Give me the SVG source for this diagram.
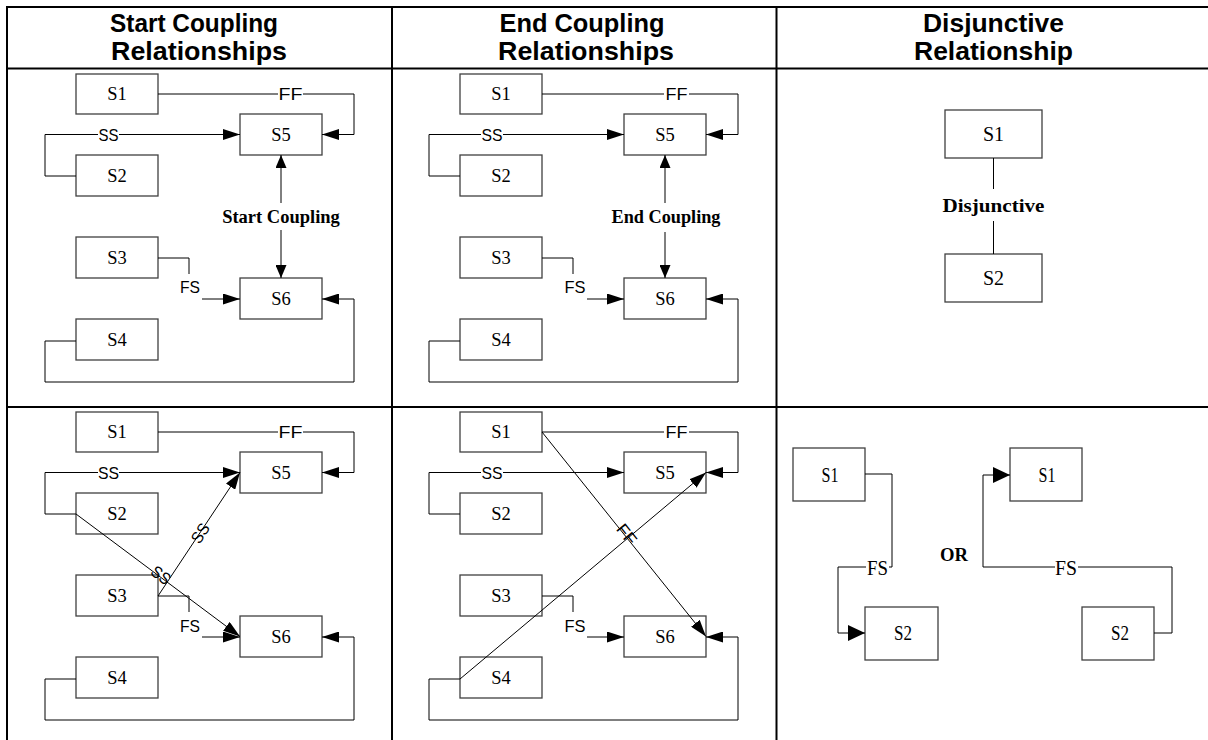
<svg xmlns="http://www.w3.org/2000/svg" width="1208" height="740" viewBox="0 0 1208 740">
<defs>
<style>
.tbl{stroke:#000;stroke-width:2;fill:none}
.box{fill:#fff;stroke:#404040;stroke-width:1.3}
.ln{fill:none;stroke:#000;stroke-width:1}
.a{marker-end:url(#ah)}
.a2{marker-end:url(#ah2)}
.aL{marker-end:url(#ahL)}
.t{font-family:"Liberation Serif","Times New Roman",serif;font-size:18.5px;text-anchor:middle;fill:#000}
.tr{font-family:"Liberation Serif","Times New Roman",serif;font-size:20px;text-anchor:middle;fill:#000}
.tc{font-family:"Liberation Serif","Times New Roman",serif;font-size:22px;text-anchor:middle;fill:#000}
.lb{font-family:"Liberation Sans",Arial,sans-serif;font-size:16.5px;text-anchor:middle;fill:#000}
.bl{font-family:"Liberation Serif","Times New Roman",serif;font-weight:bold;font-size:18.5px;text-anchor:middle;fill:#000}
.hd{font-family:"Liberation Sans",Arial,sans-serif;font-weight:bold;font-size:25px;text-anchor:middle;fill:#000}
</style>
<marker id="ah" markerUnits="userSpaceOnUse" markerWidth="17" markerHeight="11" viewBox="0 0 17 11" refX="17" refY="5.5" orient="auto"><path d="M0,0 L17,5.5 L0,11 z" fill="#000"/></marker>
<marker id="ah2" markerUnits="userSpaceOnUse" markerWidth="13" markerHeight="11" viewBox="0 0 13 11" refX="13" refY="5.5" orient="auto"><path d="M0,0 L13,5.5 L0,11 z" fill="#000"/></marker>
<marker id="ahL" markerUnits="userSpaceOnUse" markerWidth="17" markerHeight="16" viewBox="0 0 17 16" refX="17" refY="8" orient="auto"><path d="M0,0 L17,8 L0,16 z" fill="#000"/></marker>
</defs>
<rect width="1208" height="740" fill="#fff"/>

<g id="table">
<path class="tbl" d="M7,7 H1208 M7,68.5 H1208 M7,407 H1208 M7,6 V740 M392,6 V740 M776.5,6 V740"/>
<text class="hd" x="194" y="32" textLength="168" lengthAdjust="spacingAndGlyphs">Start Coupling</text>
<text class="hd" x="199" y="60" textLength="176" lengthAdjust="spacingAndGlyphs">Relationships</text>
<text class="hd" x="582" y="32" textLength="165" lengthAdjust="spacingAndGlyphs">End Coupling</text>
<text class="hd" x="586" y="60" textLength="176" lengthAdjust="spacingAndGlyphs">Relationships</text>
<text class="hd" x="993.5" y="32" textLength="141" lengthAdjust="spacingAndGlyphs">Disjunctive</text>
<text class="hd" x="993.5" y="60" textLength="159" lengthAdjust="spacingAndGlyphs">Relationship</text>
</g>

<!-- Top-left cell -->
<g id="tl-S1"><rect class="box" x="76" y="74" width="82" height="40"/><text class="t" x="117" y="100">S1</text></g>
<g id="tl-S5"><rect class="box" x="240" y="114" width="82" height="41"/><text class="t" x="281" y="141">S5</text></g>
<g id="tl-S2"><rect class="box" x="76" y="155" width="82" height="41"/><text class="t" x="117" y="182">S2</text></g>
<g id="tl-S3"><rect class="box" x="76" y="237" width="82" height="41"/><text class="t" x="117" y="264">S3</text></g>
<g id="tl-S6"><rect class="box" x="240" y="278" width="82" height="41"/><text class="t" x="281" y="305">S6</text></g>
<g id="tl-S4"><rect class="box" x="76" y="319" width="82" height="41"/><text class="t" x="117" y="346">S4</text></g>

<!-- Top-middle cell -->
<g id="tm-S1"><rect class="box" x="460" y="74" width="82" height="40"/><text class="t" x="501" y="100">S1</text></g>
<g id="tm-S5"><rect class="box" x="624" y="114" width="82" height="41"/><text class="t" x="665" y="141">S5</text></g>
<g id="tm-S2"><rect class="box" x="460" y="155" width="82" height="41"/><text class="t" x="501" y="182">S2</text></g>
<g id="tm-S3"><rect class="box" x="460" y="237" width="82" height="41"/><text class="t" x="501" y="264">S3</text></g>
<g id="tm-S6"><rect class="box" x="624" y="278" width="82" height="41"/><text class="t" x="665" y="305">S6</text></g>
<g id="tm-S4"><rect class="box" x="460" y="319" width="82" height="41"/><text class="t" x="501" y="346">S4</text></g>

<!-- Top-right cell -->
<g id="tr-S1"><rect class="box" x="945" y="110" width="97" height="48"/><text class="tr" x="993.5" y="141">S1</text></g>
<g id="tr-S2"><rect class="box" x="945" y="254" width="97" height="48"/><text class="tr" x="993.5" y="285">S2</text></g>

<!-- Bottom-left cell -->
<g id="bl-S1"><rect class="box" x="76" y="412" width="82" height="40"/><text class="t" x="117" y="438">S1</text></g>
<g id="bl-S5"><rect class="box" x="240" y="452" width="82" height="41"/><text class="t" x="281" y="479">S5</text></g>
<g id="bl-S2"><rect class="box" x="76" y="493" width="82" height="41"/><text class="t" x="117" y="520">S2</text></g>
<g id="bl-S3"><rect class="box" x="76" y="575" width="82" height="41"/><text class="t" x="117" y="602">S3</text></g>
<g id="bl-S6"><rect class="box" x="240" y="616" width="82" height="41"/><text class="t" x="281" y="643">S6</text></g>
<g id="bl-S4"><rect class="box" x="76" y="657" width="82" height="41"/><text class="t" x="117" y="684">S4</text></g>

<!-- Bottom-middle cell -->
<g id="bm-S1"><rect class="box" x="460" y="412" width="82" height="40"/><text class="t" x="501" y="438">S1</text></g>
<g id="bm-S5"><rect class="box" x="624" y="452" width="82" height="41"/><text class="t" x="665" y="479">S5</text></g>
<g id="bm-S2"><rect class="box" x="460" y="493" width="82" height="41"/><text class="t" x="501" y="520">S2</text></g>
<g id="bm-S3"><rect class="box" x="460" y="575" width="82" height="41"/><text class="t" x="501" y="602">S3</text></g>
<g id="bm-S6"><rect class="box" x="624" y="616" width="82" height="41"/><text class="t" x="665" y="643">S6</text></g>
<g id="bm-S4"><rect class="box" x="460" y="657" width="82" height="41"/><text class="t" x="501" y="684">S4</text></g>

<!-- Bottom-right cell -->
<g id="br-S1a"><rect class="box" x="793" y="448" width="72" height="53"/><text class="tc" x="830" y="482" textLength="17" lengthAdjust="spacingAndGlyphs">S1</text></g>
<g id="br-S2a"><rect class="box" x="865" y="607" width="73" height="53"/><text class="tc" x="903" y="640" textLength="18" lengthAdjust="spacingAndGlyphs">S2</text></g>
<g id="br-S1b"><rect class="box" x="1010" y="448" width="72" height="53"/><text class="tc" x="1047" y="482" textLength="17" lengthAdjust="spacingAndGlyphs">S1</text></g>
<g id="br-S2b"><rect class="box" x="1082" y="607" width="72" height="53"/><text class="tc" x="1120" y="640" textLength="18" lengthAdjust="spacingAndGlyphs">S2</text></g>

<g id="connectors">
<!-- top-left -->
<path class="ln a" d="M158,94 H278 M303,94 H354 V134.5 H322"/>
<text class="lb" x="290.5" y="100" textLength="24" lengthAdjust="spacingAndGlyphs">FF</text>
<path class="ln a" d="M76,176 H45 V134.5 H98 M119,134.5 H240"/>
<text class="lb" x="108.5" y="140.5" textLength="20" lengthAdjust="spacingAndGlyphs">SS</text>
<path class="ln" d="M158,258 H189 V274"/>
<text class="lb" x="190" y="293" textLength="20" lengthAdjust="spacingAndGlyphs">FS</text>
<path class="ln a" d="M202,299 H240"/>
<path class="ln a" d="M76,341 H45 V382 H354 V299 H322"/>
<path class="ln a2" d="M281,203 V155"/>
<path class="ln a2" d="M281,230 V278"/>
<text class="bl" x="281" y="223">Start Coupling</text>

<!-- top-middle -->
<path class="ln a" d="M542,94 H664 M689,94 H738 V134.5 H706"/>
<text class="lb" x="676.5" y="100" textLength="22" lengthAdjust="spacingAndGlyphs">FF</text>
<path class="ln a" d="M460,176 H429 V134.5 H481 M503,134.5 H624"/>
<text class="lb" x="492" y="140.5" textLength="21" lengthAdjust="spacingAndGlyphs">SS</text>
<path class="ln" d="M542,258 H573 V274"/>
<text class="lb" x="575" y="293" textLength="21" lengthAdjust="spacingAndGlyphs">FS</text>
<path class="ln a" d="M587,299 H624"/>
<path class="ln a" d="M460,341 H429 V382 H738 V299 H706"/>
<path class="ln a2" d="M665,203 V155"/>
<path class="ln a2" d="M665,232 V278"/>
<text class="bl" x="666" y="223" textLength="109" lengthAdjust="spacingAndGlyphs">End Coupling</text>

<!-- top-right -->
<path class="ln" d="M993.5,158 V189 M993.5,221 V254"/>
<text class="bl" x="993.5" y="212" font-size="20" textLength="102" lengthAdjust="spacingAndGlyphs">Disjunctive</text>

<!-- bottom-left -->
<path class="ln a" d="M158,432 H278 M303,432 H354 V472.5 H322"/>
<text class="lb" x="290.5" y="438" textLength="24" lengthAdjust="spacingAndGlyphs">FF</text>
<path class="ln a" d="M76,514 H45 V472.5 H98 M119,472.5 H240"/>
<text class="lb" x="108.5" y="478.5" textLength="21" lengthAdjust="spacingAndGlyphs">SS</text>
<path class="ln a" d="M76,514 L240,636.5"/>
<text class="lb" transform="translate(161,575) rotate(36.9)" x="0" y="6" textLength="20" lengthAdjust="spacingAndGlyphs">SS</text>
<path class="ln a" d="M158,596 L240,472.5"/>
<text class="lb" transform="translate(200,533) rotate(-56.4)" x="0" y="6" textLength="20" lengthAdjust="spacingAndGlyphs">SS</text>
<path class="ln" d="M158,596 H189 V612"/>
<text class="lb" x="190" y="632" textLength="20" lengthAdjust="spacingAndGlyphs">FS</text>
<path class="ln a" d="M202,637 H240"/>
<path class="ln a" d="M76,679 H45 V720 H354 V637 H322"/>

<!-- bottom-middle -->
<path class="ln a" d="M542,432 H664 M689,432 H738 V472.5 H706"/>
<text class="lb" x="676.5" y="438" textLength="22" lengthAdjust="spacingAndGlyphs">FF</text>
<path class="ln a" d="M460,514 H429 V472.5 H481 M503,472.5 H624"/>
<text class="lb" x="492" y="478.5" textLength="21" lengthAdjust="spacingAndGlyphs">SS</text>
<path class="ln a" d="M542,432 L706,636.5"/>
<path class="ln a" d="M460,679 L706,472.5"/>
<text class="lb" transform="translate(627,534) rotate(51.3)" x="0" y="6" textLength="22" lengthAdjust="spacingAndGlyphs">FF</text>
<path class="ln" d="M542,596 H573 V612"/>
<text class="lb" x="575" y="632" textLength="21" lengthAdjust="spacingAndGlyphs">FS</text>
<path class="ln a" d="M587,637 H624"/>
<path class="ln a" d="M460,679 H429 V720 H738 V637 H706"/>

<!-- bottom-right -->
<path class="ln aL" d="M865,474 H892 V567 H889 M866,567 H838 V633 H865"/>
<text class="tc" x="877.5" y="575" textLength="21" lengthAdjust="spacingAndGlyphs">FS</text>
<path class="ln aL" d="M1154,633 H1172 V567 H1078 M1055,567 H983 V475 H1010"/>
<text class="tc" x="1066" y="575" textLength="22" lengthAdjust="spacingAndGlyphs">FS</text>
<text class="bl" x="954" y="561" font-size="20" textLength="28" lengthAdjust="spacingAndGlyphs">OR</text>
</g>
</svg>
